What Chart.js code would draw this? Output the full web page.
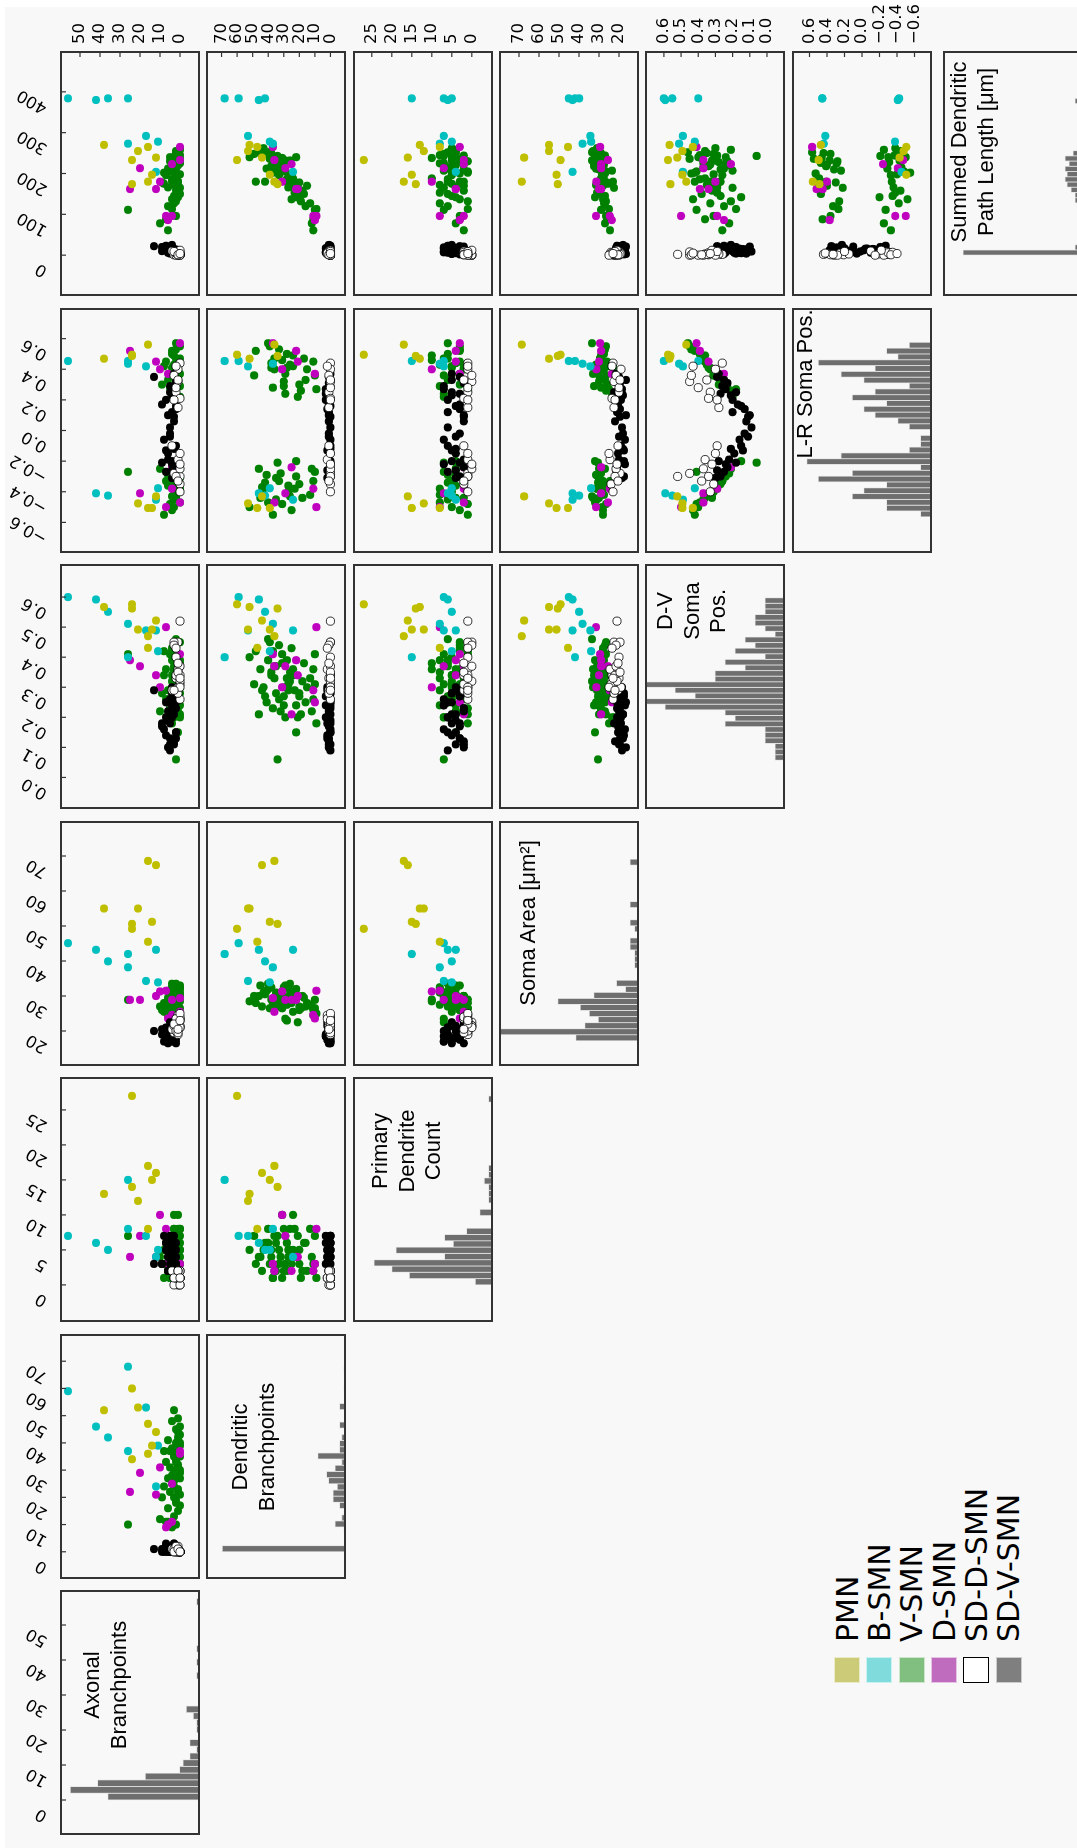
<!DOCTYPE html>
<html>
<head>
<meta charset="utf-8">
<script src="https://cdn.jsdelivr.net/npm/chart.js@4.4.1/dist/chart.umd.min.js"></script>
<style>
html, body { margin: 0; padding: 0; background: #fff; width: 1077px; height: 1848px; overflow: hidden; }
#fig { position: absolute; left: 0; top: 0; width: 1848px; height: 1077px; transform-origin: 0 0; transform: translateY(1848px) rotate(-90deg); }
#bg { position: absolute; left: 0; top: 5px; width: 1841px; height: 1072px; background: #f8f8f8; }
canvas { position: absolute; }
.title { position: absolute; width: 300px; text-align: center; font: 22px/26.5px "Liberation Sans", Arial, sans-serif; color: #000; white-space: nowrap; }
.legbox { position: absolute; width: 26px; height: 26px; box-sizing: border-box; }
.legtxt { position: absolute; font: 30px/30px "DejaVu Sans", sans-serif; color: #000; white-space: nowrap; }
</style>
</head>
<body>
<div id="fig"><div id="bg"></div></div>
<script>
// variables, in pair-plot order
const varNames = ['Axonal Branchpoints', 'Dendritic Branchpoints', 'Primary Dendrite Count',
  'Soma Area', 'D-V Soma Pos.', 'L-R Soma Pos.', 'Summed Dendritic Path Length'];

const ticksAxonal = [0, 10, 20, 30, 40, 50];
const ticksDendritic = [0, 10, 20, 30, 40, 50, 60, 70];
const ticksPrimary = [0, 5, 10, 15, 20, 25];
const ticksSoma = [20, 30, 40, 50, 60, 70];
const ticksDV = [0, 0.1, 0.2, 0.3, 0.4, 0.5, 0.6];
const ticksLR = [-0.6, -0.4, -0.2, 0, 0.2, 0.4, 0.6];
const ticksLength = [0, 100, 200, 300, 400];

const axisMin = [-10, -10, -5.3, 10, -0.105, -0.8, -100];
const axisMax = [60, 80, 29.7, 80, 0.71, 0.8, 500];

// one row per neuron: [axonal, dendritic, primary, soma area, D-V, L-R, summed length]
const pmn = [
  [38, 52, 13, 55.0, 0.567, 0.469, 270],
  [24, 60, 27, 49.2, 0.576, 0.495, 233],
  [21, 53, 12, 55.0, 0.492, -0.476, 255],
  [16, 47, 8, 45.5, 0.431, -0.506, 265],
  [12, 44, 16, 67.4, 0.522, -0.43, 239],
  [14, 39, 15, 51.2, 0.492, -0.506, 197],
  [24, 34, 14, 50.6, 0.562, 0.487, 174],
  [16, 36, 17, 68.6, 0.47, 0.561, 180]
];
const bsmn = [
  [26, 68, 15, 42.0, 0.40, 0.454, 384],
  [56, 59, 7, 45.1, 0.60, 0.454, 384],
  [17, 53, 7, 34.3, 0.489, 0.419, 292],
  [42, 46, 6, 43.2, 0.592, -0.41, 380],
  [36, 42, 5, 39.9, 0.551, -0.425, 384],
  [26, 37, 8, 38.2, 0.511, 0.436, 273],
  [11, 39, 5, 33.9, 0.42, -0.377, 278],
  [12, 24, 4, 43.2, 0.489, -0.452, 204]
];
const dsmn = [
  [0, 37, 3, 29.4, 0.41, 0.57, 265],
  [0, 36, 2, 25.5, 0.37, -0.47, 233],
  [4, 25, 2, 28.9, 0.21, -0.24, 223],
  [20, 29, 7, 28.9, 0.37, -0.41, 213],
  [12, 21, 4, 30.0, 0.34, 0.45, 162],
  [25, 22, 4, 28.9, 0.39, 0.52, 162],
  [7, 9, 8, 31.5, 0.50, -0.50, 96],
  [4, 11, 2, 24.6, 0.29, -0.38, 96],
  [6, 10, 3, 23.6, 0.25, 0.37, 86],
  [10, 31, 10, 31.3, 0.30, 0.40, 180]
];
const vsmn = [
  [2, 10, 3, 26.5, 0.31, 0.36, 96], [6, 11, 2, 24.5, 0.26, -0.33, 61],
  [10, 12, 4, 27.0, 0.22, -0.25, 78], [4, 9, 1, 25.0, 0.18, 0.27, 113],
  [26, 10, 7, 28.9, 0.41, -0.27, 111], [3, 13, 8, 27.5, 0.33, -0.42, 127],
  [7, 11, 3, 26.0, 0.36, 0.45, 88], [1, 15, 2, 28.0, 0.30, 0.40, 170],
  [3, 20, 5, 27.0, 0.27, -0.35, 145], [0, 17, 6, 29.5, 0.38, 0.47, 150],
  [5, 22, 4, 30.5, 0.24, -0.30, 240], [2, 19, 1, 26.5, 0.21, 0.26, 132],
  [8, 24, 5, 25.5, 0.34, 0.42, 175], [1, 23, 8, 31.0, 0.29, -0.38, 153],
  [4, 25, 3, 28.0, 0.43, -0.52, 137], [0, 21, 7, 22.5, 0.20, 0.22, 165],
  [2, 18, 2, 30.0, 0.32, -0.44, 158], [6, 16, 6, 27.0, 0.25, 0.33, 120],
  [3, 24, 10, 29.0, 0.36, 0.49, 188], [1, 22, 4, 32.0, 0.15, -0.20, 142],
  [9, 20, 3, 26.0, 0.28, 0.30, 178], [0, 27, 5, 28.5, 0.31, -0.40, 198],
  [2, 30, 2, 30.0, 0.27, 0.32, 210], [4, 28, 6, 27.5, 0.39, 0.50, 186],
  [1, 32, 4, 29.0, 0.22, -0.28, 220], [3, 26, 8, 31.5, 0.35, 0.43, 172],
  [5, 31, 1, 26.5, 0.41, -0.48, 205], [0, 29, 3, 33.0, 0.30, 0.37, 232],
  [7, 33, 5, 28.0, 0.26, -0.33, 196], [2, 34, 7, 30.5, 0.06, -0.21, 243],
  [1, 28, 2, 23.0, 0.33, 0.41, 180], [3, 35, 6, 31.0, 0.37, -0.45, 215],
  [0, 30, 8, 32.5, 0.24, 0.29, 225], [6, 27, 4, 29.5, 0.29, -0.36, 166],
  [2, 33, 3, 27.0, 0.44, 0.53, 200], [4, 26, 5, 33.5, 0.32, -0.43, 232],
  [1, 31, 10, 28.5, 0.38, 0.46, 238], [0, 35, 2, 30.0, 0.28, -0.31, 228],
  [3, 29, 7, 23.5, 0.20, 0.24, 207], [2, 38, 4, 29.0, 0.35, 0.44, 250],
  [0, 43, 5, 31.0, 0.30, -0.38, 262], [4, 48, 3, 28.0, 0.42, 0.52, 180],
  [1, 42, 6, 30.5, 0.27, -0.34, 180], [3, 36, 2, 27.5, 0.33, 0.40, 222],
  [0, 40, 8, 32.0, 0.39, -0.47, 245], [5, 37, 1, 29.0, 0.23, 0.28, 230],
  [2, 45, 4, 33.0, 0.36, -0.44, 255], [1, 49, 7, 30.0, 0.31, 0.36, 248],
  [3, 52, 5, 28.5, 0.40, -0.50, 240], [0, 39, 3, 26.5, 0.45, 0.55, 236],
  [6, 41, 6, 31.5, 0.25, -0.29, 212], [2, 36, 7, 29.5, 0.37, 0.47, 226],
  [1, 44, 2, 27.0, 0.29, -0.37, 244], [4, 38, 5, 32.5, 0.34, 0.41, 218],
  [0, 46, 4, 30.0, 0.21, -0.25, 258], [8, 37, 1, 28.0, 0.42, -0.55, 202],
  [2, 40, 6, 33.5, 0.46, 0.57, 252]
];
const sdDsmn = [
  [0, 0, 1, 21.0, 0.52, -0.30, 2], [1, 0, 0, 22.5, 0.45, 0.32, 0],
  [2, 1, 1, 20.0, 0.33, 0.25, 5], [0, 0, 2, 23.5, 0.34, 0.21, 1],
  [3, 0, 1, 19.5, 0.45, -0.28, 8], [1, 2, 1, 24.5, 0.36, -0.19, 3],
  [0, 0, 0, 21.5, 0.37, -0.25, 0], [2, 0, 1, 22.0, 0.34, -0.30, 6],
  [4, 1, 2, 20.5, 0.29, -0.10, 10], [0, 0, 1, 23.0, 0.26, 0.44, 2],
  [1, 0, 1, 19.0, 0.30, 0.40, 4], [3, 1, 0, 21.5, 0.44, 0.36, 1],
  [0, 0, 2, 24.0, 0.31, -0.35, 7], [2, 0, 1, 20.0, 0.40, 0.28, 0],
  [1, 1, 1, 22.5, 0.28, 0.15, 3], [0, 0, 0, 21.0, 0.32, -0.22, 12],
  [2, 2, 1, 23.5, 0.43, 0.42, 5], [1, 0, 2, 19.5, 0.35, 0.33, 2],
  [0, 0, 1, 25.0, 0.30, -0.15, 0], [3, 0, 1, 22.0, 0.29, 0.20, 9],
  [1, 1, 2, 20.5, 0.38, -0.33, 1], [0, 0, 1, 23.0, 0.33, -0.40, 4]
];
const sdVsmn = [
  [3, 0, 2, 19.5, 0.11, 0.09, 8], [5, 1, 3, 18.0, 0.13, -0.02, 12],
  [2, 0, 4, 20.5, 0.15, 0.16, 5], [7, 2, 5, 17.5, 0.14, -0.13, 15],
  [4, 1, 6, 21.0, 0.20, 0.12, 10], [9, 0, 3, 19.0, 0.18, -0.21, 20],
  [3, 3, 7, 18.5, 0.24, 0.27, 7], [6, 1, 2, 20.0, 0.22, -0.19, 14],
  [2, 0, 5, 16.5, 0.25, 0.33, 3], [4, 2, 4, 21.5, 0.29, -0.26, 18],
  [13, 1, 3, 20.0, 0.29, 0.35, 22], [5, 0, 6, 18.5, 0.09, 0.02, 9],
  [3, 1, 2, 22.0, 0.12, 0.06, 4], [8, 0, 7, 17.0, 0.16, -0.06, 16],
  [2, 2, 3, 19.5, 0.13, 0.14, 11], [6, 0, 4, 20.5, 0.19, -0.15, 6],
  [4, 1, 5, 18.0, 0.21, 0.23, 25], [3, 0, 2, 21.0, 0.23, -0.24, 13],
  [7, 3, 6, 19.0, 0.20, 0.20, 17], [2, 1, 3, 17.5, 0.27, -0.30, 2],
  [5, 0, 7, 20.0, 0.26, 0.29, 19], [4, 2, 4, 18.5, 0.30, -0.31, 8],
  [3, 0, 5, 21.5, 0.28, 0.37, 12], [6, 1, 2, 16.5, 0.10, 0.10, 21],
  [2, 0, 6, 19.0, 0.15, -0.10, 6], [9, 1, 3, 20.5, 0.17, 0.17, 10],
  [3, 0, 4, 18.0, 0.21, -0.12, 15], [5, 2, 5, 22.5, 0.18, 0.25, 4],
  [4, 0, 7, 17.0, 0.24, -0.22, 9], [2, 1, 2, 19.5, 0.23, 0.31, 14],
  [7, 0, 6, 21.0, 0.25, -0.27, 23], [3, 3, 3, 18.5, 0.27, 0.24, 7],
  [5, 1, 4, 20.0, 0.11, -0.04, 16], [4, 0, 5, 17.5, 0.28, -0.20, 11]
];

// histogram counts per bin (diagonal panels)
const countsAxonal = [27, 38, 30, 16, 6, 5, 3, 1, 3, 0, 1, 1, 2, 4, 0, 0, 0, 0, 1, 0, 1, 0, 1, 0, 0, 0, 0, 0, 0, 1];
const countsDendritic = [57, 0, 0, 1, 5, 2, 1, 3, 6, 6, 4, 8, 9, 5, 2, 13, 3, 3, 2, 0, 3, 0, 0, 3, 0, 0, 1, 0, 0, 1];
const countsPrimary = [4, 19, 23, 27, 11, 22, 9, 11, 6, 0, 0, 3, 0, 1, 1, 1, 2, 1, 1, 0, 0, 0, 0, 0, 0, 0, 0, 0, 0, 1];
const countsSoma = [14, 36, 12, 9, 11, 13, 18, 10, 3, 5, 0, 0, 1, 1, 1, 2, 2, 0, 1, 2, 0, 0, 2, 0, 0, 0, 0, 0, 0, 2];
const countsDV = [1, 1, 1, 2, 2, 2, 6, 5, 6, 12, 14, 9, 11, 14, 7, 7, 4, 6, 2, 5, 3, 4, 1, 2, 3, 3, 2, 2, 2];
const countsLR = [1, 4, 4, 7, 6, 4, 10, 7, 1, 11, 8, 2, 1, 1, 0, 2, 3, 5, 6, 4, 7, 5, 2, 6, 8, 5, 10, 3, 4, 2];
const countsLength = [60, 4, 0, 0, 1, 1, 2, 2, 2, 3, 4, 4, 6, 8, 9, 8, 9, 7, 9, 5, 3, 2, 1, 0, 0, 0, 0, 0, 0, 4];
const binStart = [0, 0, 0, 17.2, 0.057, -0.564, 0];
const binWidth = [1.92, 2.27, 0.9, 1.73, 0.01865, 0.038, 12.8];
const histMax = [41, 64.5, 31.8, 31, 14, 12.3, 70];

const tickSets = [ticksAxonal, ticksDendritic, ticksPrimary, ticksSoma, ticksDV, ticksLR, ticksLength];
const histCounts = [countsAxonal, countsDendritic, countsPrimary, countsSoma, countsDV, countsLR, countsLength];

// drawn bottom to top
const groups = [
  { name: 'V-SMN', rows: vsmn, fill: '#008000', edge: '#008000', edgeW: 0 },
  { name: 'D-SMN', rows: dsmn, fill: '#bf00bf', edge: '#bf00bf', edgeW: 0 },
  { name: 'B-SMN', rows: bsmn, fill: '#00bfbf', edge: '#00bfbf', edgeW: 0 },
  { name: 'PMN', rows: pmn, fill: '#bfbf00', edge: '#bfbf00', edgeW: 0 },
  { name: 'SD-V-SMN', rows: sdVsmn, fill: '#000000', edge: '#000000', edgeW: 0 },
  { name: 'SD-D-SMN', rows: sdDsmn, fill: '#ffffff', edge: '#000000', edgeW: 0.8 }
];

const legendNames = ['PMN', 'B-SMN', 'V-SMN', 'D-SMN', 'SD-D-SMN', 'SD-V-SMN'];
const legendColors = ['#cccc78', '#80dcdc', '#80bf80', '#bf6cbf', '#ffffff', '#7f7f7f'];

const titleLines = [
  ['Axonal', 'Branchpoints'],
  ['Dendritic', 'Branchpoints'],
  ['Primary', 'Dendrite', 'Count'],
  ['Soma Area [\u03bcm\u00b2]'],
  ['D-V', 'Soma', 'Pos.'],
  ['L-R Soma Pos.'],
  ['Summed Dendritic', 'Path Length [\u03bcm]']
];

// layout (figure is drawn unrotated, then turned a quarter turn)
const rowTop = [60, 206, 353, 499, 645, 792, 943];
const colLeft = [13, 269, 526, 782, 1039, 1295, 1552];
const PW = 245, PH = 140, TOPAX = 50, RIGHTAX = 50;
const titleCenterX = [163, 401, 697, 925, 1237, 1464, 1696];
const titleTop = [79, 227, 367, 515, 652, 792, 946];
const tickFont = { family: '"DejaVu Sans", sans-serif', size: 16.5 };

Chart.defaults.font.family = '"DejaVu Sans", sans-serif';
Chart.defaults.font.size = 16.5;
Chart.defaults.color = '#000';

const fig = document.getElementById('fig');

function fmtTick(k, v) {
  if (k === 4) return v.toFixed(1);
  if (k === 5) return (v < 0 ? '\u2212' : '') + Math.abs(v).toFixed(1);
  return String(v);
}

const framePlugin = {
  id: 'frame',
  afterDraw(chart) {
    const ctx = chart.ctx, a = chart.chartArea;
    const sx = chart.scales.x, sy = chart.scales.y;
    ctx.save();
    ctx.strokeStyle = '#333333';
    ctx.lineWidth = 1.2;
    if (sx.options.display) {
      sx.ticks.forEach(function (t) {
        const p = sx.getPixelForValue(t.value);
        ctx.beginPath(); ctx.moveTo(p, a.top); ctx.lineTo(p, a.top + 6); ctx.stroke();
      });
    }
    if (sy.options.display) {
      sy.ticks.forEach(function (t) {
        const p = sy.getPixelForValue(t.value);
        ctx.beginPath(); ctx.moveTo(a.right, p); ctx.lineTo(a.right - 6, p); ctx.stroke();
      });
    }
    ctx.lineWidth = 2;
    ctx.strokeRect(a.left + 1, a.top + 1, a.right - a.left - 2, a.bottom - a.top - 2);
    ctx.restore();
  }
};

function makeCanvas(left, top, w, h) {
  const c = document.createElement('canvas');
  c.width = w; c.height = h;
  c.style.left = left + 'px'; c.style.top = top + 'px';
  c.style.width = w + 'px'; c.style.height = h + 'px';
  fig.appendChild(c);
  return c;
}

function xScale(k, show) {
  const s = {
    type: 'linear', position: 'top', display: show, min: axisMin[k], max: axisMax[k], offset: false,
    grid: { display: false, drawTicks: false }, border: { display: false },
    afterBuildTicks: function (sc) { sc.ticks = tickSets[k].map(function (v) { return { value: v }; }); },
    ticks: { minRotation: 60, maxRotation: 60, padding: 9, autoSkip: false, font: tickFont, color: '#000',
      callback: function (v) { return fmtTick(k, v); } }
  };
  if (show) s.afterFit = function (sc) { sc.height = TOPAX; sc.paddingLeft = 0; sc.paddingRight = 0; };
  return s;
}

function yScale(k, show) {
  const s = {
    type: 'linear', position: 'right', display: show, min: axisMin[k], max: axisMax[k],
    grid: { display: false, drawTicks: false }, border: { display: false },
    afterBuildTicks: function (sc) { sc.ticks = tickSets[k].map(function (v) { return { value: v }; }); },
    ticks: { padding: 7, autoSkip: false, font: tickFont, color: '#000',
      callback: function (v) { return fmtTick(k, v); } }
  };
  if (show) s.afterFit = function (sc) { sc.width = RIGHTAX; sc.paddingTop = 0; sc.paddingBottom = 0; };
  return s;
}

function baseOptions() {
  return {
    responsive: false, animation: false, events: [], devicePixelRatio: 1,
    layout: { padding: 0, autoPadding: false },
    plugins: { legend: { display: false }, tooltip: { enabled: false } }
  };
}

// scatter panels: row i (y variable), column j (x variable)
for (let i = 0; i < 7; i++) {
  for (let j = i + 1; j < 7; j++) {
    const hasTop = i === 0, hasRight = j === 6;
    const canvas = makeCanvas(colLeft[j], rowTop[i] - (hasTop ? TOPAX : 0),
      PW + (hasRight ? RIGHTAX : 0), PH + (hasTop ? TOPAX : 0));
    const opts = baseOptions();
    opts.scales = { x: xScale(j, hasTop), y: yScale(i, hasRight) };
    new Chart(canvas, {
      type: 'scatter',
      data: {
        datasets: groups.map(function (g, n) {
          return {
            label: g.name,
            order: groups.length - n,
            data: g.rows.map(function (r) { return { x: r[j], y: r[i] }; }),
            pointRadius: 4.1,
            pointBackgroundColor: g.fill,
            pointBorderColor: g.edge,
            pointBorderWidth: g.edgeW
          };
        })
      },
      options: opts,
      plugins: [framePlugin]
    });
  }
}

// diagonal histograms
for (let k = 0; k < 7; k++) {
  const hasTop = k === 0;
  const canvas = makeCanvas(colLeft[k], rowTop[k] - (hasTop ? TOPAX : 0), PW, PH + (hasTop ? TOPAX : 0));
  const bars = [];
  histCounts[k].forEach(function (c, b) {
    if (c > 0) bars.push({ x: binStart[k] + binWidth[k] * (b + 0.5), y: c });
  });
  const opts = baseOptions();
  opts.scales = {
    x: xScale(k, hasTop),
    y: { type: 'linear', display: false, min: 0, max: histMax[k] }
  };
  new Chart(canvas, {
    type: 'bar',
    data: {
      datasets: [{
        data: bars,
        backgroundColor: '#6e6e6e',
        borderColor: '#dedede',
        borderWidth: 0.8,
        borderSkipped: 'start',
        barPercentage: 1,
        categoryPercentage: 1
      }]
    },
    options: opts,
    plugins: [framePlugin]
  });

  const t = document.createElement('div');
  t.className = 'title';
  t.style.left = (titleCenterX[k] - 150) + 'px';
  t.style.top = titleTop[k] + 'px';
  t.innerHTML = titleLines[k].join('<br>');
  fig.appendChild(t);
}

// legend
legendNames.forEach(function (name, n) {
  const box = document.createElement('div');
  box.className = 'legbox';
  box.style.left = '165px';
  box.style.top = Math.round(834 + 32.3 * n) + 'px';
  box.style.background = legendColors[n];
  box.style.border = name === 'SD-D-SMN' ? '1.5px solid #000' : '1px solid rgba(255,255,255,0.6)';
  fig.appendChild(box);
  const txt = document.createElement('div');
  txt.className = 'legtxt';
  txt.style.left = '206px';
  txt.style.top = Math.round(832.6 + 32.3 * n) + 'px';
  txt.textContent = name;
  fig.appendChild(txt);
});
</script>
</body>
</html>
